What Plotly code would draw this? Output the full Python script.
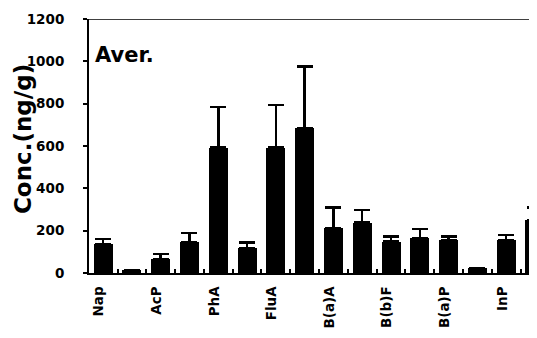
import plotly.graph_objects as go

categories = ["Nap", "Acy", "AcP", "Flu", "PhA", "Ant", "FluA", "Pyr",
              "B(a)A", "Chr", "B(b)F", "B(k)F", "B(a)P", "DBA", "InP", "BghiP"]
means = [137, 12, 65, 145, 592, 117, 592, 686, 211, 238, 148, 164, 156, 22, 156, 250]
errors = [23, 0, 25, 45, 193, 26, 202, 289, 98, 60, 24, 44, 16, 0, 24, 60]
labeled = ["Nap", "AcP", "PhA", "FluA", "B(a)A", "B(b)F", "B(a)P", "InP"]
y_ticks = [0, 200, 400, 600, 800, 1000, 1200]

xs = list(range(len(categories)))
label_offset = -0.14
tickvals = [categories.index(c) + label_offset for c in labeled]

fig = go.Figure()
fig.add_trace(go.Bar(
    x=xs, y=means, width=0.66,
    marker=dict(color="black", line=dict(width=0)),
    error_y=dict(type="data", array=errors, arrayminus=[0] * len(errors),
                 symmetric=False, color="black", thickness=2.5, width=8),
))

font_family = "DejaVu Sans"
fig.update_layout(
    width=529, height=330,
    margin=dict(l=81, r=0, t=11, b=65),
    paper_bgcolor="white", plot_bgcolor="white",
    showlegend=False,
    bargap=0,
    xaxis=dict(
        range=[-0.49, 15.07],
        tickvals=tickvals, ticktext=labeled, tickangle=-90,
        ticks="", showgrid=False, zeroline=False,
        showline=True, linecolor="black", linewidth=2,
        tickfont=dict(family=font_family, size=13.5, color="black", weight="bold"),
        ticklabelstandoff=6,
        minor=dict(tickvals=[i + 0.5 for i in xs], ticks="inside", ticklen=4,
                   tickwidth=1.5, tickcolor="black", showgrid=False),
    ),
    yaxis=dict(
        range=[0, 1200], tickvals=y_ticks,
        ticks="outside", ticklen=4, tickwidth=1.5, tickcolor="black",
        showgrid=False, zeroline=False,
        showline=True, linecolor="black", linewidth=2,
        tickfont=dict(family=font_family, size=13.5, color="black", weight="bold"),
        ticklabelstandoff=16,
    ),
    shapes=[dict(type="line", xref="paper", yref="y", x0=0, x1=1, y0=1200, y1=1200,
                 line=dict(color="black", width=1.5))],
    annotations=[
        dict(text="Aver.", xref="paper", yref="y", x=0, y=1030, xanchor="left",
             yanchor="middle", xshift=4, showarrow=False,
             font=dict(family=font_family, size=21, color="black", weight="bold")),
        dict(text="Conc.(ng/g)", xref="paper", yref="y", x=0, y=633, xanchor="center",
             yanchor="middle", xshift=-66, textangle=-90, showarrow=False,
             font=dict(family=font_family, size=23, color="black", weight="bold")),
    ],
)

fig.write_html("out.html")
